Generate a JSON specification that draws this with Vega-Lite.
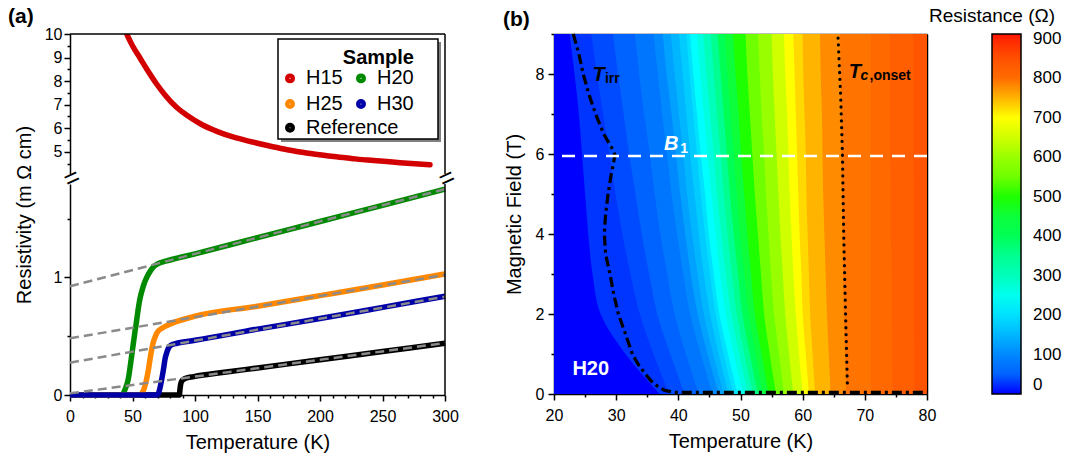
{
  "$schema": "https://vega.github.io/schema/vega-lite/v6.json",
  "padding": {"left": 8, "top": 6, "right": 2, "bottom": 2},
  "config": {
    "font": "Liberation Sans",
    "view": {"stroke": null},
    "axis": {"labelFontSize": 16, "titleFontSize": 20, "titleFontWeight": "normal", "labelColor": "black", "titleColor": "black", "domainColor": "black", "tickColor": "black", "domainWidth": 1.5, "tickWidth": 1.5, "grid": false, "labelPadding": 3, "labelFlush": false, "labelOverlap": false, "zindex": 1},
    "legend": {"labelColor": "black", "titleColor": "black"},
    "title": {"fontSize": 21, "fontWeight": "bold", "anchor": "start", "frame": "bounds", "color": "black"}
  },
  "resolve": {"scale": {"color": "independent"}},
  "spacing": 43,
  "hconcat": [
    {
      "spacing": 10,
      "bounds": "flush",
      "resolve": {"scale": {"color": "independent"}},
      "vconcat": [
        {
          "width": 375,
          "height": 140,
          "title": {"text": "(a)", "dx": -6, "offset": -1},
          "resolve": {"axis": {"x": "independent", "y": "independent"}},
          "layer": [
            {
              "data": {"values": [
                {"Sample": "H15", "T": 44, "rho": 10.2}, {"Sample": "H15", "T": 46, "rho": 9.93}, {"Sample": "H15", "T": 50, "rho": 9.5}, {"Sample": "H15", "T": 56, "rho": 8.98}, {"Sample": "H15", "T": 62, "rho": 8.46}, {"Sample": "H15", "T": 69, "rho": 7.9}, {"Sample": "H15", "T": 77, "rho": 7.35}, {"Sample": "H15", "T": 85, "rho": 6.9}, {"Sample": "H15", "T": 95, "rho": 6.5}, {"Sample": "H15", "T": 105, "rho": 6.17}, {"Sample": "H15", "T": 118, "rho": 5.86}, {"Sample": "H15", "T": 131, "rho": 5.62}, {"Sample": "H15", "T": 145, "rho": 5.43}, {"Sample": "H15", "T": 158, "rho": 5.27}, {"Sample": "H15", "T": 171, "rho": 5.12}, {"Sample": "H15", "T": 184, "rho": 4.99}, {"Sample": "H15", "T": 198, "rho": 4.89}, {"Sample": "H15", "T": 211, "rho": 4.8}, {"Sample": "H15", "T": 225, "rho": 4.72}, {"Sample": "H15", "T": 238, "rho": 4.65}, {"Sample": "H15", "T": 251, "rho": 4.6}, {"Sample": "H15", "T": 264, "rho": 4.54}, {"Sample": "H15", "T": 276, "rho": 4.49}, {"Sample": "H15", "T": 288, "rho": 4.45}
              ]},
              "mark": {"type": "line", "strokeWidth": 5.5, "interpolate": "monotone", "clip": true, "strokeCap": "round"},
              "encoding": {
                "x": {"field": "T", "type": "quantitative", "scale": {"domain": [0, 300], "nice": false}, "axis": null},
                "y": {"field": "rho", "type": "quantitative", "scale": {"domain": [4.06, 10], "nice": false, "zero": false},
                  "axis": {"orient": "left", "values": [5, 6, 7, 8, 9, 10], "tickSize": 6, "labelPadding": 2, "title": "Resistivity (m Ω cm)", "titleX": -46, "titleY": 180.5, "titleAngle": 270, "titleAlign": "center", "titleBaseline": "middle"}},
                "color": {"field": "Sample", "type": "nominal",
                  "scale": {"domain": ["H15", "H20", "H25", "H30", "Reference"], "range": ["#d20000", "#008a00", "#ff8800", "#0000a8", "#000000"]},
                  "legend": {"title": "Sample", "values": ["H15", "H20", "H25", "H30"], "orient": "none", "direction": "horizontal", "legendX": 210, "legendY": 14, "columns": 2, "columnPadding": 4, "rowPadding": -2, "symbolType": "circle", "symbolSize": 20, "symbolStrokeWidth": 5.5, "labelFontSize": 20, "titleFontSize": 20, "titleFontWeight": "bold", "titleAnchor": "end", "titlePadding": 0, "padding": 0, "labelOffset": 6, "labelLimit": 0, "zindex": 2}}
              }
            },
            {
              "data": {"values": [{}]},
              "mark": {"type": "rect", "color": "#808080"},
              "encoding": {
                "x": {"datum": 168.8, "type": "quantitative", "axis": null},
                "x2": {"datum": 296.8},
                "y": {"datum": 9.66, "type": "quantitative", "axis": null},
                "y2": {"datum": 5.42}
              }
            },
            {
              "data": {"values": [{}]},
              "mark": {"type": "rect", "fill": "white", "stroke": "black", "strokeWidth": 1.5},
              "encoding": {
                "x": {"datum": 166.4, "type": "quantitative", "axis": null},
                "x2": {"datum": 294.4},
                "y": {"datum": 9.79, "type": "quantitative", "axis": null},
                "y2": {"datum": 5.545}
              }
            },
            {
              "data": {"values": [{"T": 0, "rho": 4.06}, {"T": 300, "rho": 4.06}]},
              "mark": {"type": "text", "text": "=", "fontSize": 26, "angle": -25, "dy": 5, "align": "center", "baseline": "middle", "color": "black"},
              "encoding": {
                "x": {"field": "T", "type": "quantitative", "axis": null},
                "y": {"field": "rho", "type": "quantitative", "axis": {"orient": "left", "values": [4.5, 5.5, 6.5, 7.5, 8.5, 9.5], "labels": false, "domain": false, "tickSize": 3, "title": null}}
              }
            },
            {
              "data": {"values": [{}]},
              "mark": {"type": "rule", "color": "black", "strokeWidth": 1.5},
              "encoding": {"x": {"datum": 300, "type": "quantitative", "axis": null}}
            },
            {
              "data": {"values": [{}]},
              "mark": {"type": "rule", "color": "black", "strokeWidth": 1.5},
              "encoding": {"y": {"datum": 10, "type": "quantitative", "axis": null}}
            }
          ]
        },
        {
          "width": 375,
          "height": 211,
          "resolve": {"axis": {"x": "independent", "y": "independent"}},
          "layer": [
            {
              "data": {"values": [
                {"Sample": "Reference", "T": 0, "rho": 0}, {"Sample": "Reference", "T": 87.5, "rho": 0}, {"Sample": "Reference", "T": 88, "rho": 0.05}, {"Sample": "Reference", "T": 88.5, "rho": 0.09}, {"Sample": "Reference", "T": 89.5, "rho": 0.12}, {"Sample": "Reference", "T": 92, "rho": 0.14}, {"Sample": "Reference", "T": 99, "rho": 0.156}, {"Sample": "Reference", "T": 125, "rho": 0.195}, {"Sample": "Reference", "T": 150, "rho": 0.23}, {"Sample": "Reference", "T": 200, "rho": 0.3}, {"Sample": "Reference", "T": 250, "rho": 0.37}, {"Sample": "Reference", "T": 300, "rho": 0.44},
                {"Sample": "H20", "T": 0, "rho": 0}, {"Sample": "H20", "T": 41, "rho": 0}, {"Sample": "H20", "T": 42.7, "rho": 0.014}, {"Sample": "H20", "T": 44.5, "rho": 0.06}, {"Sample": "H20", "T": 46.7, "rho": 0.14}, {"Sample": "H20", "T": 48, "rho": 0.23}, {"Sample": "H20", "T": 49.4, "rho": 0.34}, {"Sample": "H20", "T": 50.7, "rho": 0.44}, {"Sample": "H20", "T": 52, "rho": 0.54}, {"Sample": "H20", "T": 53.4, "rho": 0.64}, {"Sample": "H20", "T": 54.7, "rho": 0.74}, {"Sample": "H20", "T": 56, "rho": 0.82}, {"Sample": "H20", "T": 57.4, "rho": 0.88}, {"Sample": "H20", "T": 59.4, "rho": 0.95}, {"Sample": "H20", "T": 61.4, "rho": 1.0}, {"Sample": "H20", "T": 64, "rho": 1.05}, {"Sample": "H20", "T": 66.7, "rho": 1.09}, {"Sample": "H20", "T": 70, "rho": 1.115}, {"Sample": "H20", "T": 77.4, "rho": 1.14}, {"Sample": "H20", "T": 100, "rho": 1.2}, {"Sample": "H20", "T": 150, "rho": 1.338}, {"Sample": "H20", "T": 200, "rho": 1.475}, {"Sample": "H20", "T": 250, "rho": 1.613}, {"Sample": "H20", "T": 300, "rho": 1.75},
                {"Sample": "H25", "T": 0, "rho": 0}, {"Sample": "H25", "T": 55.5, "rho": 0}, {"Sample": "H25", "T": 57.4, "rho": 0.012}, {"Sample": "H25", "T": 59.5, "rho": 0.06}, {"Sample": "H25", "T": 61.4, "rho": 0.14}, {"Sample": "H25", "T": 62.8, "rho": 0.22}, {"Sample": "H25", "T": 64.1, "rho": 0.31}, {"Sample": "H25", "T": 65.4, "rho": 0.39}, {"Sample": "H25", "T": 66.7, "rho": 0.45}, {"Sample": "H25", "T": 68.7, "rho": 0.51}, {"Sample": "H25", "T": 70.7, "rho": 0.545}, {"Sample": "H25", "T": 74, "rho": 0.57}, {"Sample": "H25", "T": 77.4, "rho": 0.59}, {"Sample": "H25", "T": 100, "rho": 0.67}, {"Sample": "H25", "T": 150, "rho": 0.755}, {"Sample": "H25", "T": 200, "rho": 0.845}, {"Sample": "H25", "T": 250, "rho": 0.935}, {"Sample": "H25", "T": 300, "rho": 1.03},
                {"Sample": "H30", "T": 0, "rho": 0}, {"Sample": "H30", "T": 69.5, "rho": 0}, {"Sample": "H30", "T": 70.7, "rho": 0.012}, {"Sample": "H30", "T": 72, "rho": 0.06}, {"Sample": "H30", "T": 73.5, "rho": 0.14}, {"Sample": "H30", "T": 74.8, "rho": 0.22}, {"Sample": "H30", "T": 76.1, "rho": 0.31}, {"Sample": "H30", "T": 77.4, "rho": 0.36}, {"Sample": "H30", "T": 78.8, "rho": 0.4}, {"Sample": "H30", "T": 81, "rho": 0.425}, {"Sample": "H30", "T": 85.5, "rho": 0.44}, {"Sample": "H30", "T": 100, "rho": 0.465}, {"Sample": "H30", "T": 150, "rho": 0.56}, {"Sample": "H30", "T": 200, "rho": 0.65}, {"Sample": "H30", "T": 250, "rho": 0.745}, {"Sample": "H30", "T": 300, "rho": 0.84}
              ]},
              "mark": {"type": "line", "strokeWidth": 5.5, "interpolate": "monotone"},
              "encoding": {
                "x": {"field": "T", "type": "quantitative", "scale": {"domain": [0, 300], "nice": false},
                  "axis": {"orient": "bottom", "values": [0, 50, 100, 150, 200, 250, 300], "tickSize": 6, "labelPadding": 7, "title": "Temperature (K)", "titlePadding": 8}},
                "y": {"field": "rho", "type": "quantitative", "scale": {"domain": [0, 1.794], "nice": false},
                  "axis": {"orient": "left", "values": [0, 1], "tickSize": 6, "labelPadding": 2, "title": null}},
                "color": {"field": "Sample", "type": "nominal", "scale": {"domain": ["H15", "H20", "H25", "H30", "Reference"], "range": ["#d20000", "#008a00", "#ff8800", "#0000a8", "#000000"]},
                  "legend": {"title": null, "values": ["Reference"], "orient": "none", "legendX": 210, "legendY": -66.3, "symbolType": "circle", "symbolSize": 20, "symbolStrokeWidth": 5.5, "labelFontSize": 20, "padding": 0, "labelOffset": 6, "labelLimit": 0, "zindex": 2}}
              }
            },
            {
              "data": {"values": [
                {"Fit": "H20", "T": 0, "rho": 0.925}, {"Fit": "H20", "T": 300, "rho": 1.75},
                {"Fit": "H25", "T": 0, "rho": 0.482}, {"Fit": "H25", "T": 300, "rho": 1.022},
                {"Fit": "H30", "T": 0, "rho": 0.275}, {"Fit": "H30", "T": 300, "rho": 0.836},
                {"Fit": "Reference", "T": 0, "rho": 0.014}, {"Fit": "Reference", "T": 300, "rho": 0.442}
              ]},
              "mark": {"type": "line", "strokeWidth": 2.5, "strokeDash": [9, 5], "color": "#8a8a8a"},
              "encoding": {
                "x": {"field": "T", "type": "quantitative", "axis": {"orient": "bottom", "values": [10, 20, 30, 40, 60, 70, 80, 90, 110, 120, 130, 140, 160, 170, 180, 190, 210, 220, 230, 240, 260, 270, 280, 290], "labels": false, "domain": false, "tickSize": 3, "title": null}},
                "y": {"field": "rho", "type": "quantitative", "axis": {"orient": "left", "values": [0.5, 1.5], "labels": false, "domain": false, "tickSize": 3, "title": null}},
                "detail": {"field": "Fit", "type": "nominal"}
              }
            },
            {
              "data": {"values": [{}]},
              "mark": {"type": "rule", "color": "black", "strokeWidth": 1.5},
              "encoding": {"x": {"datum": 300, "type": "quantitative", "axis": null}}
            }
          ]
        }
      ]
    },
    {
      "width": 373,
      "height": 360,
      "title": {"text": "(b)", "dx": -1, "offset": -23},
      "resolve": {"axis": {"x": "independent", "y": "independent"}},
      "layer": [
        {
          "data": {"values": [
            {"L": 0, "B": 0, "T": 20}, {"L": 0, "B": 9, "T": 20},
            {"L": 5, "B": 0, "T": 37}, {"L": 5, "B": 1, "T": 31.5}, {"L": 5, "B": 2, "T": 27.5}, {"L": 5, "B": 3, "T": 26.2}, {"L": 5, "B": 4, "T": 25.5}, {"L": 5, "B": 5, "T": 25}, {"L": 5, "B": 6, "T": 24.5}, {"L": 5, "B": 7, "T": 24}, {"L": 5, "B": 8, "T": 23.3}, {"L": 5, "B": 9, "T": 22.5},
            {"L": 25, "B": 0, "T": 38.5}, {"L": 25, "B": 1, "T": 36}, {"L": 25, "B": 2, "T": 33.8}, {"L": 25, "B": 3, "T": 32.3}, {"L": 25, "B": 4, "T": 31}, {"L": 25, "B": 5, "T": 29.9}, {"L": 25, "B": 6, "T": 28.9}, {"L": 25, "B": 7, "T": 27.9}, {"L": 25, "B": 8, "T": 26.9}, {"L": 25, "B": 9, "T": 26},
            {"L": 50, "B": 0, "T": 41}, {"L": 50, "B": 1, "T": 38.7}, {"L": 50, "B": 2, "T": 36.6}, {"L": 50, "B": 3, "T": 35.3}, {"L": 50, "B": 4, "T": 34.1}, {"L": 50, "B": 5, "T": 33.1}, {"L": 50, "B": 6, "T": 32.1}, {"L": 50, "B": 7, "T": 31.2}, {"L": 50, "B": 8, "T": 30.3}, {"L": 50, "B": 9, "T": 29.5},
            {"L": 75, "B": 0, "T": 43.3}, {"L": 75, "B": 1, "T": 41.2}, {"L": 75, "B": 2, "T": 39.4}, {"L": 75, "B": 3, "T": 38.2}, {"L": 75, "B": 4, "T": 37.1}, {"L": 75, "B": 5, "T": 36.2}, {"L": 75, "B": 6, "T": 35.4}, {"L": 75, "B": 7, "T": 34.5}, {"L": 75, "B": 8, "T": 33.7}, {"L": 75, "B": 9, "T": 33},
            {"L": 100, "B": 0, "T": 45.5}, {"L": 100, "B": 1, "T": 43.6}, {"L": 100, "B": 2, "T": 41.9}, {"L": 100, "B": 3, "T": 40.8}, {"L": 100, "B": 4, "T": 39.8}, {"L": 100, "B": 5, "T": 38.9}, {"L": 100, "B": 6, "T": 38.2}, {"L": 100, "B": 7, "T": 37.4}, {"L": 100, "B": 8, "T": 36.7}, {"L": 100, "B": 9, "T": 36},
            {"L": 125, "B": 0, "T": 46.5}, {"L": 125, "B": 1, "T": 44.7}, {"L": 125, "B": 2, "T": 43.1}, {"L": 125, "B": 3, "T": 42}, {"L": 125, "B": 4, "T": 41.1}, {"L": 125, "B": 5, "T": 40.3}, {"L": 125, "B": 6, "T": 39.6}, {"L": 125, "B": 7, "T": 38.9}, {"L": 125, "B": 8, "T": 38.1}, {"L": 125, "B": 9, "T": 37.5},
            {"L": 150, "B": 0, "T": 47.3}, {"L": 150, "B": 1, "T": 45.6}, {"L": 150, "B": 2, "T": 44.1}, {"L": 150, "B": 3, "T": 43.1}, {"L": 150, "B": 4, "T": 42.2}, {"L": 150, "B": 5, "T": 41.4}, {"L": 150, "B": 6, "T": 40.8}, {"L": 150, "B": 7, "T": 40.1}, {"L": 150, "B": 8, "T": 39.4}, {"L": 150, "B": 9, "T": 38.8},
            {"L": 175, "B": 0, "T": 48.1}, {"L": 175, "B": 1, "T": 46.5}, {"L": 175, "B": 2, "T": 45.1}, {"L": 175, "B": 3, "T": 44.1}, {"L": 175, "B": 4, "T": 43.3}, {"L": 175, "B": 5, "T": 42.6}, {"L": 175, "B": 6, "T": 41.9}, {"L": 175, "B": 7, "T": 41.3}, {"L": 175, "B": 8, "T": 40.7}, {"L": 175, "B": 9, "T": 40.1},
            {"L": 200, "B": 0, "T": 48.8}, {"L": 200, "B": 1, "T": 47.3}, {"L": 200, "B": 2, "T": 46}, {"L": 200, "B": 3, "T": 45.1}, {"L": 200, "B": 4, "T": 44.3}, {"L": 200, "B": 5, "T": 43.6}, {"L": 200, "B": 6, "T": 43}, {"L": 200, "B": 7, "T": 42.4}, {"L": 200, "B": 8, "T": 41.8}, {"L": 200, "B": 9, "T": 41.3},
            {"L": 230, "B": 0, "T": 49.5}, {"L": 230, "B": 1, "T": 48}, {"L": 230, "B": 2, "T": 46.6}, {"L": 230, "B": 3, "T": 45.7}, {"L": 230, "B": 4, "T": 44.9}, {"L": 230, "B": 5, "T": 44.3}, {"L": 230, "B": 6, "T": 43.6}, {"L": 230, "B": 7, "T": 43}, {"L": 230, "B": 8, "T": 42.4}, {"L": 230, "B": 9, "T": 41.9},
            {"L": 265, "B": 0, "T": 50.4}, {"L": 265, "B": 1, "T": 48.9}, {"L": 265, "B": 2, "T": 47.6}, {"L": 265, "B": 3, "T": 46.7}, {"L": 265, "B": 4, "T": 46}, {"L": 265, "B": 5, "T": 45.3}, {"L": 265, "B": 6, "T": 44.7}, {"L": 265, "B": 7, "T": 44.1}, {"L": 265, "B": 8, "T": 43.5}, {"L": 265, "B": 9, "T": 43},
            {"L": 300, "B": 0, "T": 51.2}, {"L": 300, "B": 1, "T": 49.8}, {"L": 300, "B": 2, "T": 48.5}, {"L": 300, "B": 3, "T": 47.6}, {"L": 300, "B": 4, "T": 46.9}, {"L": 300, "B": 5, "T": 46.2}, {"L": 300, "B": 6, "T": 45.7}, {"L": 300, "B": 7, "T": 45.1}, {"L": 300, "B": 8, "T": 44.5}, {"L": 300, "B": 9, "T": 44},
            {"L": 350, "B": 0, "T": 52}, {"L": 350, "B": 1, "T": 50.6}, {"L": 350, "B": 2, "T": 49.4}, {"L": 350, "B": 3, "T": 48.6}, {"L": 350, "B": 4, "T": 47.9}, {"L": 350, "B": 5, "T": 47.3}, {"L": 350, "B": 6, "T": 46.8}, {"L": 350, "B": 7, "T": 46.2}, {"L": 350, "B": 8, "T": 45.7}, {"L": 350, "B": 9, "T": 45.2},
            {"L": 400, "B": 0, "T": 52.8}, {"L": 400, "B": 1, "T": 51.5}, {"L": 400, "B": 2, "T": 50.3}, {"L": 400, "B": 3, "T": 49.6}, {"L": 400, "B": 4, "T": 48.9}, {"L": 400, "B": 5, "T": 48.3}, {"L": 400, "B": 6, "T": 47.8}, {"L": 400, "B": 7, "T": 47.3}, {"L": 400, "B": 8, "T": 46.8}, {"L": 400, "B": 9, "T": 46.3},
            {"L": 450, "B": 0, "T": 53.6}, {"L": 450, "B": 1, "T": 52.4}, {"L": 450, "B": 2, "T": 51.3}, {"L": 450, "B": 3, "T": 50.6}, {"L": 450, "B": 4, "T": 49.9}, {"L": 450, "B": 5, "T": 49.4}, {"L": 450, "B": 6, "T": 48.9}, {"L": 450, "B": 7, "T": 48.4}, {"L": 450, "B": 8, "T": 47.9}, {"L": 450, "B": 9, "T": 47.5},
            {"L": 500, "B": 0, "T": 54.5}, {"L": 500, "B": 1, "T": 53.4}, {"L": 500, "B": 2, "T": 52.3}, {"L": 500, "B": 3, "T": 51.7}, {"L": 500, "B": 4, "T": 51.1}, {"L": 500, "B": 5, "T": 50.6}, {"L": 500, "B": 6, "T": 50.1}, {"L": 500, "B": 7, "T": 49.7}, {"L": 500, "B": 8, "T": 49.2}, {"L": 500, "B": 9, "T": 48.8},
            {"L": 550, "B": 0, "T": 55.7}, {"L": 550, "B": 1, "T": 54.7}, {"L": 550, "B": 2, "T": 53.8}, {"L": 550, "B": 3, "T": 53.3}, {"L": 550, "B": 4, "T": 52.8}, {"L": 550, "B": 5, "T": 52.3}, {"L": 550, "B": 6, "T": 51.9}, {"L": 550, "B": 7, "T": 51.5}, {"L": 550, "B": 8, "T": 51.1}, {"L": 550, "B": 9, "T": 50.8},
            {"L": 600, "B": 0, "T": 57}, {"L": 600, "B": 1, "T": 56.2}, {"L": 600, "B": 2, "T": 55.4}, {"L": 600, "B": 3, "T": 54.9}, {"L": 600, "B": 4, "T": 54.5}, {"L": 600, "B": 5, "T": 54.1}, {"L": 600, "B": 6, "T": 53.8}, {"L": 600, "B": 7, "T": 53.4}, {"L": 600, "B": 8, "T": 53.1}, {"L": 600, "B": 9, "T": 52.8},
            {"L": 650, "B": 0, "T": 58.5}, {"L": 650, "B": 1, "T": 57.8}, {"L": 650, "B": 2, "T": 57.2}, {"L": 650, "B": 3, "T": 56.8}, {"L": 650, "B": 4, "T": 56.4}, {"L": 650, "B": 5, "T": 56.1}, {"L": 650, "B": 6, "T": 55.8}, {"L": 650, "B": 7, "T": 55.5}, {"L": 650, "B": 8, "T": 55.2}, {"L": 650, "B": 9, "T": 55},
            {"L": 700, "B": 0, "T": 60}, {"L": 700, "B": 1, "T": 59.4}, {"L": 700, "B": 2, "T": 58.9}, {"L": 700, "B": 3, "T": 58.5}, {"L": 700, "B": 4, "T": 58.2}, {"L": 700, "B": 5, "T": 57.9}, {"L": 700, "B": 6, "T": 57.7}, {"L": 700, "B": 7, "T": 57.5}, {"L": 700, "B": 8, "T": 57.2}, {"L": 700, "B": 9, "T": 57},
            {"L": 725, "B": 0, "T": 61}, {"L": 725, "B": 1, "T": 60.5}, {"L": 725, "B": 2, "T": 60}, {"L": 725, "B": 3, "T": 59.8}, {"L": 725, "B": 4, "T": 59.5}, {"L": 725, "B": 5, "T": 59.3}, {"L": 725, "B": 6, "T": 59.1}, {"L": 725, "B": 7, "T": 58.9}, {"L": 725, "B": 8, "T": 58.7}, {"L": 725, "B": 9, "T": 58.5},
            {"L": 750, "B": 0, "T": 62}, {"L": 750, "B": 1, "T": 61.6}, {"L": 750, "B": 2, "T": 61.2}, {"L": 750, "B": 3, "T": 61}, {"L": 750, "B": 4, "T": 60.8}, {"L": 750, "B": 5, "T": 60.6}, {"L": 750, "B": 6, "T": 60.5}, {"L": 750, "B": 7, "T": 60.3}, {"L": 750, "B": 8, "T": 60.1}, {"L": 750, "B": 9, "T": 60},
            {"L": 780, "B": 0, "T": 64.5}, {"L": 780, "B": 1, "T": 64.2}, {"L": 780, "B": 2, "T": 63.9}, {"L": 780, "B": 3, "T": 63.7}, {"L": 780, "B": 4, "T": 63.5}, {"L": 780, "B": 5, "T": 63.3}, {"L": 780, "B": 6, "T": 63.2}, {"L": 780, "B": 7, "T": 63.1}, {"L": 780, "B": 8, "T": 62.9}, {"L": 780, "B": 9, "T": 62.8},
            {"L": 795, "B": 0, "T": 67}, {"L": 795, "B": 1, "T": 66.8}, {"L": 795, "B": 2, "T": 66.6}, {"L": 795, "B": 3, "T": 66.5}, {"L": 795, "B": 4, "T": 66.4}, {"L": 795, "B": 5, "T": 66.3}, {"L": 795, "B": 6, "T": 66.2}, {"L": 795, "B": 7, "T": 66.2}, {"L": 795, "B": 8, "T": 66.1}, {"L": 795, "B": 9, "T": 66},
            {"L": 805, "B": 0, "T": 71}, {"L": 805, "B": 1, "T": 71}, {"L": 805, "B": 2, "T": 71}, {"L": 805, "B": 3, "T": 71}, {"L": 805, "B": 4, "T": 71}, {"L": 805, "B": 5, "T": 71}, {"L": 805, "B": 6, "T": 71}, {"L": 805, "B": 7, "T": 71}, {"L": 805, "B": 8, "T": 71}, {"L": 805, "B": 9, "T": 71},
            {"L": 825, "B": 0, "T": 74.5}, {"L": 825, "B": 1, "T": 74.4}, {"L": 825, "B": 2, "T": 74.3}, {"L": 825, "B": 3, "T": 74.3}, {"L": 825, "B": 4, "T": 74.2}, {"L": 825, "B": 5, "T": 74.2}, {"L": 825, "B": 6, "T": 74.1}, {"L": 825, "B": 7, "T": 74.1}, {"L": 825, "B": 8, "T": 74}, {"L": 825, "B": 9, "T": 74},
            {"L": 843, "B": 0, "T": 78}, {"L": 843, "B": 1, "T": 78}, {"L": 843, "B": 2, "T": 77.9}, {"L": 843, "B": 3, "T": 77.9}, {"L": 843, "B": 4, "T": 77.9}, {"L": 843, "B": 5, "T": 77.9}, {"L": 843, "B": 6, "T": 77.8}, {"L": 843, "B": 7, "T": 77.8}, {"L": 843, "B": 8, "T": 77.8}, {"L": 843, "B": 9, "T": 77.8}
          ]},
          "mark": {"type": "area", "orient": "horizontal", "interpolate": "monotone"},
          "encoding": {
            "y": {"field": "B", "type": "quantitative", "scale": {"domain": [0, 9], "nice": false},
              "axis": {"orient": "left", "values": [0, 1, 2, 3, 4, 5, 6, 7, 8, 9], "tickSize": {"condition": {"test": "datum.value % 2 === 0", "value": 6}, "value": 3}, "labelExpr": "datum.value % 2 === 0 ? datum.label : ''", "labelPadding": 4, "title": "Magnetic Field (T)", "titleX": -40, "titleY": 180, "titleAngle": 270, "titleAlign": "center", "titleBaseline": "middle"}},
            "x": {"field": "T", "type": "quantitative", "stack": null, "scale": {"domain": [20, 80], "nice": false},
              "axis": {"orient": "bottom", "values": [20, 25, 30, 35, 40, 45, 50, 55, 60, 65, 70, 75, 80], "tickSize": {"condition": {"test": "datum.value % 10 === 0", "value": 6}, "value": 3}, "labelExpr": "datum.value % 10 === 0 ? datum.label : ''", "labelPadding": 7, "title": "Temperature (K)", "titlePadding": 8}},
            "x2": {"datum": 80},
            "detail": {"field": "L", "type": "nominal"},
            "color": {"field": "L", "type": "quantitative",
              "scale": {"domain": [0, 5, 100, 200, 230, 300, 400, 500, 600, 700, 750, 800, 912], "range": ["#0000ff", "#0034ff", "#0088ff", "#00e0ff", "#00ffff", "#00ffbb", "#00ff55", "#1eff00", "#99ff00", "#ffff00", "#ffb400", "#ff6c00", "#ff1000"]},
              "legend": {"title": "Resistance (Ω)", "orient": "none", "legendX": 375, "legendY": -27, "direction": "vertical", "gradientLength": 360, "gradientThickness": 29, "values": [0, 100, 200, 300, 400, 500, 600, 700, 800, 900], "labelFontSize": 17, "labelOffset": 12, "titleFontSize": 19, "titleFontWeight": "normal", "titleAnchor": "start", "titleAlign": "center", "titlePadding": 8, "gradientStrokeColor": "black", "gradientStrokeWidth": 1.5, "padding": 0}}
          }
        },
        {
          "data": {"values": [
            {"i": 1, "T": 23.1, "B": 9.0}, {"i": 2, "T": 24.0, "B": 8.5}, {"i": 3, "T": 24.7, "B": 8.0}, {"i": 4, "T": 25.6, "B": 7.5}, {"i": 5, "T": 26.7, "B": 7.0}, {"i": 6, "T": 28.0, "B": 6.5}, {"i": 7, "T": 29.3, "B": 6.15}, {"i": 8, "T": 29.8, "B": 5.98}, {"i": 9, "T": 29.6, "B": 5.8}, {"i": 10, "T": 29.1, "B": 5.4}, {"i": 11, "T": 28.7, "B": 5.0}, {"i": 12, "T": 28.3, "B": 4.5}, {"i": 13, "T": 28.1, "B": 4.0}, {"i": 14, "T": 28.3, "B": 3.5}, {"i": 15, "T": 29.0, "B": 3.0}, {"i": 16, "T": 29.6, "B": 2.5}, {"i": 17, "T": 30.35, "B": 2.0}, {"i": 18, "T": 31.5, "B": 1.5}, {"i": 19, "T": 32.6, "B": 1.0}, {"i": 20, "T": 33.5, "B": 0.75}, {"i": 21, "T": 34.7, "B": 0.5}, {"i": 22, "T": 35.6, "B": 0.33}, {"i": 23, "T": 36.6, "B": 0.2}, {"i": 24, "T": 37.8, "B": 0.09}, {"i": 25, "T": 39.5, "B": 0.04}, {"i": 26, "T": 80, "B": 0.04}
          ]},
          "mark": {"type": "line", "color": "black", "strokeWidth": 3.2, "strokeDash": [10, 4, 3, 4]},
          "encoding": {
            "x": {"field": "T", "type": "quantitative", "axis": null},
            "y": {"field": "B", "type": "quantitative", "axis": null},
            "order": {"field": "i", "type": "quantitative"}
          }
        },
        {
          "data": {"values": [
            {"T": 65.7, "B": 8.9}, {"T": 66.1, "B": 7.5}, {"T": 66.4, "B": 6.0}, {"T": 66.6, "B": 4.0}, {"T": 66.9, "B": 2.0}, {"T": 67.2, "B": 0.2}
          ]},
          "mark": {"type": "line", "color": "black", "strokeWidth": 3.2, "strokeDash": [0.1, 6.8], "strokeCap": "round"},
          "encoding": {
            "x": {"field": "T", "type": "quantitative", "axis": {"orient": "top", "labels": false, "ticks": false, "title": null}},
            "y": {"field": "B", "type": "quantitative", "axis": {"orient": "right", "labels": false, "ticks": false, "title": null}},
            "order": {"field": "B", "type": "quantitative", "sort": "descending"}
          }
        },
        {
          "data": {"values": [{"B": 5.95}]},
          "mark": {"type": "rule", "color": "white", "strokeWidth": 2.5, "strokeDash": [13, 9]},
          "encoding": {
            "y": {"field": "B", "type": "quantitative", "axis": null}
          }
        },
        {
          "data": {"values": [{"label": "T", "T": 26.2, "B": 7.83}, {"label": "T", "T": 67.4, "B": 7.89}]},
          "mark": {"type": "text", "fontSize": 20, "fontWeight": "bold", "fontStyle": "italic", "align": "left", "baseline": "alphabetic", "color": "black"},
          "encoding": {
            "x": {"field": "T", "type": "quantitative", "axis": null},
            "y": {"field": "B", "type": "quantitative", "axis": null},
            "text": {"field": "label"}
          }
        },
        {
          "data": {"values": [{"label": "irr", "T": 28.2, "B": 7.78}, {"label": ",onset", "T": 70.75, "B": 7.84}]},
          "mark": {"type": "text", "fontSize": 14, "fontWeight": "bold", "align": "left", "baseline": "alphabetic", "color": "black"},
          "encoding": {
            "x": {"field": "T", "type": "quantitative", "axis": null},
            "y": {"field": "B", "type": "quantitative", "axis": null},
            "text": {"field": "label"}
          }
        },
        {
          "data": {"values": [{"label": "c", "T": 69.3, "B": 7.84}]},
          "mark": {"type": "text", "fontSize": 14, "fontWeight": "bold", "fontStyle": "italic", "align": "left", "baseline": "alphabetic", "color": "black"},
          "encoding": {
            "x": {"field": "T", "type": "quantitative", "axis": null},
            "y": {"field": "B", "type": "quantitative", "axis": null},
            "text": {"field": "label"}
          }
        },
        {
          "data": {"values": [{"label": "B", "T": 37.7, "B": 6.1}]},
          "mark": {"type": "text", "fontSize": 20, "fontWeight": "bold", "fontStyle": "italic", "align": "left", "baseline": "alphabetic", "color": "white"},
          "encoding": {
            "x": {"field": "T", "type": "quantitative", "axis": null},
            "y": {"field": "B", "type": "quantitative", "axis": null},
            "text": {"field": "label"}
          }
        },
        {
          "data": {"values": [{"label": "1", "T": 40.3, "B": 6.03}, {"label": "H20", "T": 22.96, "B": 0.475}]},
          "mark": {"type": "text", "fontWeight": "bold", "align": "left", "baseline": "alphabetic", "color": "white"},
          "encoding": {
            "x": {"field": "T", "type": "quantitative", "axis": null},
            "y": {"field": "B", "type": "quantitative", "axis": null},
            "text": {"field": "label"},
            "size": {"field": "label", "type": "nominal", "scale": {"domain": ["1", "H20"], "range": [14, 20]}, "legend": null}
          }
        }
      ]
    }
  ]
}
